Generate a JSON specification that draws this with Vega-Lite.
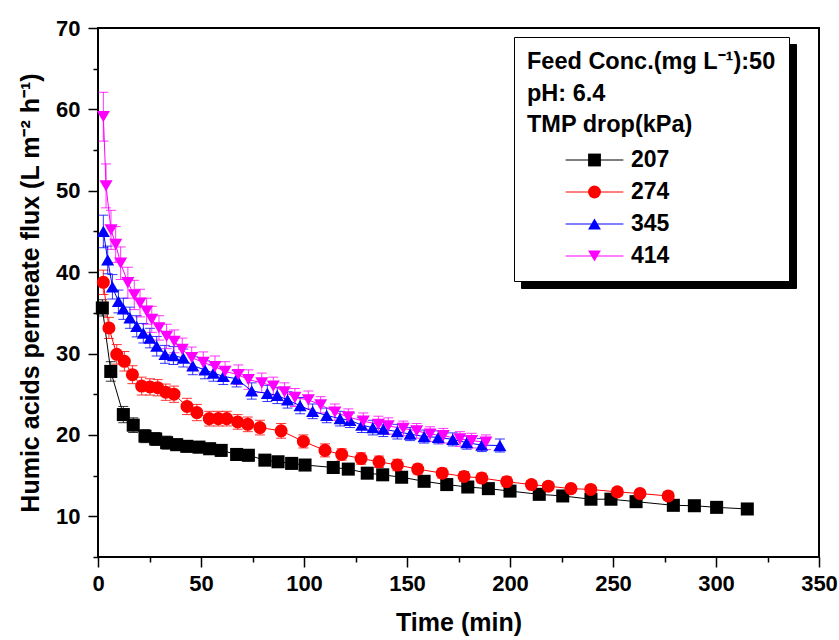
{
  "$schema": "https://vega.github.io/schema/vega-lite/v6.json",
  "width": 721,
  "height": 529,
  "autosize": {"type": "none"},
  "padding": {"left": 98, "top": 28, "right": 20, "bottom": 83},
  "background": "white",
  "config": {
    "view": {"stroke": "black", "strokeWidth": 2},
    "font": "Liberation Sans",
    "axis": {
      "grid": false,
      "domain": false,
      "labelFont": "Liberation Sans",
      "labelFontSize": 22,
      "labelFontWeight": "bold",
      "labelColor": "black",
      "titleFont": "Liberation Sans",
      "titleFontSize": 25,
      "titleFontWeight": "bold",
      "titleColor": "black",
      "tickColor": "black",
      "tickWidth": 1.5
    }
  },
  "data": {
    "values": [
      {"tmp": "207", "t": 2.1, "flux": 35.6, "err": 1.0},
      {"tmp": "207", "t": 6.2, "flux": 27.8, "err": 1.2},
      {"tmp": "207", "t": 12.3, "flux": 22.5, "err": 1.0},
      {"tmp": "207", "t": 17.1, "flux": 21.2, "err": 0.9},
      {"tmp": "207", "t": 22.8, "flux": 19.85, "err": 0.8},
      {"tmp": "207", "t": 28.0, "flux": 19.5, "err": 0.8},
      {"tmp": "207", "t": 33.3, "flux": 19.05, "err": 0.8},
      {"tmp": "207", "t": 38.2, "flux": 18.8, "err": 0.7},
      {"tmp": "207", "t": 43.1, "flux": 18.6, "err": 0.7},
      {"tmp": "207", "t": 49.0, "flux": 18.5, "err": 0.7},
      {"tmp": "207", "t": 54.2, "flux": 18.3, "err": 0.7},
      {"tmp": "207", "t": 59.8, "flux": 18.1, "err": 0.7},
      {"tmp": "207", "t": 67.3, "flux": 17.6, "err": 0.7},
      {"tmp": "207", "t": 73.0, "flux": 17.5, "err": 0.7},
      {"tmp": "207", "t": 81.0, "flux": 16.9, "err": 0.6},
      {"tmp": "207", "t": 87.4, "flux": 16.7, "err": 0.6},
      {"tmp": "207", "t": 94.0, "flux": 16.5, "err": 0.6},
      {"tmp": "207", "t": 100.5, "flux": 16.3, "err": 0.6},
      {"tmp": "207", "t": 114.2, "flux": 16.0, "err": 0.5},
      {"tmp": "207", "t": 121.5, "flux": 15.8, "err": 0.5},
      {"tmp": "207", "t": 130.7, "flux": 15.3, "err": 0.5},
      {"tmp": "207", "t": 138.2, "flux": 15.1, "err": 0.5},
      {"tmp": "207", "t": 147.4, "flux": 14.8, "err": 0.5},
      {"tmp": "207", "t": 158.3, "flux": 14.3, "err": 0.5},
      {"tmp": "207", "t": 169.3, "flux": 13.9, "err": 0.5},
      {"tmp": "207", "t": 179.5, "flux": 13.6, "err": 0.5},
      {"tmp": "207", "t": 189.5, "flux": 13.4, "err": 0.5},
      {"tmp": "207", "t": 200.0, "flux": 13.1, "err": 0.5},
      {"tmp": "207", "t": 214.2, "flux": 12.7, "err": 0.4},
      {"tmp": "207", "t": 225.6, "flux": 12.5, "err": 0.4},
      {"tmp": "207", "t": 239.3, "flux": 12.1, "err": 0.4},
      {"tmp": "207", "t": 249.0, "flux": 12.1, "err": 0.4},
      {"tmp": "207", "t": 261.2, "flux": 11.8, "err": 0.4},
      {"tmp": "207", "t": 279.3, "flux": 11.35, "err": 0.4},
      {"tmp": "207", "t": 289.5, "flux": 11.3, "err": 0.4},
      {"tmp": "207", "t": 300.3, "flux": 11.1, "err": 0.4},
      {"tmp": "207", "t": 315.2, "flux": 10.9, "err": 0.4},

      {"tmp": "274", "t": 2.6, "flux": 38.75, "err": 1.5},
      {"tmp": "274", "t": 5.3, "flux": 33.15, "err": 1.3},
      {"tmp": "274", "t": 9.1, "flux": 29.9, "err": 1.2},
      {"tmp": "274", "t": 12.8, "flux": 29.05, "err": 1.2},
      {"tmp": "274", "t": 16.7, "flux": 27.4, "err": 1.1},
      {"tmp": "274", "t": 21.2, "flux": 26.0, "err": 1.1},
      {"tmp": "274", "t": 25.2, "flux": 25.9, "err": 1.0},
      {"tmp": "274", "t": 29.0, "flux": 25.8, "err": 1.0},
      {"tmp": "274", "t": 32.9, "flux": 25.25, "err": 1.0},
      {"tmp": "274", "t": 36.9, "flux": 25.0, "err": 1.0},
      {"tmp": "274", "t": 43.2, "flux": 23.5, "err": 1.0},
      {"tmp": "274", "t": 48.0, "flux": 22.75, "err": 1.0},
      {"tmp": "274", "t": 54.0, "flux": 22.0, "err": 0.9},
      {"tmp": "274", "t": 58.4, "flux": 22.0, "err": 0.9},
      {"tmp": "274", "t": 62.5, "flux": 22.0, "err": 0.9},
      {"tmp": "274", "t": 67.8, "flux": 21.6, "err": 0.9},
      {"tmp": "274", "t": 72.7, "flux": 21.3, "err": 0.9},
      {"tmp": "274", "t": 78.6, "flux": 20.9, "err": 0.9},
      {"tmp": "274", "t": 88.9, "flux": 20.5, "err": 0.9},
      {"tmp": "274", "t": 99.7, "flux": 19.2, "err": 0.8},
      {"tmp": "274", "t": 110.2, "flux": 18.1, "err": 0.8},
      {"tmp": "274", "t": 118.3, "flux": 17.6, "err": 0.7},
      {"tmp": "274", "t": 127.7, "flux": 17.1, "err": 0.7},
      {"tmp": "274", "t": 136.4, "flux": 16.7, "err": 0.7},
      {"tmp": "274", "t": 145.3, "flux": 16.3, "err": 0.7},
      {"tmp": "274", "t": 155.2, "flux": 15.8, "err": 0.6},
      {"tmp": "274", "t": 167.1, "flux": 15.3, "err": 0.6},
      {"tmp": "274", "t": 177.7, "flux": 14.9, "err": 0.6},
      {"tmp": "274", "t": 186.3, "flux": 14.7, "err": 0.6},
      {"tmp": "274", "t": 198.4, "flux": 14.25, "err": 0.6},
      {"tmp": "274", "t": 210.4, "flux": 13.9, "err": 0.5},
      {"tmp": "274", "t": 218.6, "flux": 13.7, "err": 0.5},
      {"tmp": "274", "t": 229.6, "flux": 13.4, "err": 0.5},
      {"tmp": "274", "t": 239.2, "flux": 13.3, "err": 0.5},
      {"tmp": "274", "t": 252.1, "flux": 13.0, "err": 0.5},
      {"tmp": "274", "t": 263.1, "flux": 12.8, "err": 0.5},
      {"tmp": "274", "t": 276.8, "flux": 12.5, "err": 0.5},

      {"tmp": "345", "t": 2.6, "flux": 45.0, "err": 2.0},
      {"tmp": "345", "t": 4.7, "flux": 41.5, "err": 1.7},
      {"tmp": "345", "t": 7.0, "flux": 38.2, "err": 1.5},
      {"tmp": "345", "t": 9.9, "flux": 36.4, "err": 1.4},
      {"tmp": "345", "t": 12.3, "flux": 35.5, "err": 1.3},
      {"tmp": "345", "t": 15.5, "flux": 34.4, "err": 1.3},
      {"tmp": "345", "t": 18.8, "flux": 33.35, "err": 1.3},
      {"tmp": "345", "t": 22.0, "flux": 32.5, "err": 1.2},
      {"tmp": "345", "t": 25.2, "flux": 31.9, "err": 1.2},
      {"tmp": "345", "t": 28.5, "flux": 30.9, "err": 1.2},
      {"tmp": "345", "t": 32.5, "flux": 29.9, "err": 1.1},
      {"tmp": "345", "t": 36.6, "flux": 29.75, "err": 1.1},
      {"tmp": "345", "t": 41.4, "flux": 29.45, "err": 1.1},
      {"tmp": "345", "t": 46.0, "flux": 28.5, "err": 1.1},
      {"tmp": "345", "t": 51.9, "flux": 28.0, "err": 1.1},
      {"tmp": "345", "t": 56.0, "flux": 27.6, "err": 1.0},
      {"tmp": "345", "t": 60.8, "flux": 27.2, "err": 1.0},
      {"tmp": "345", "t": 67.3, "flux": 26.9, "err": 1.0},
      {"tmp": "345", "t": 74.6, "flux": 25.4, "err": 1.0},
      {"tmp": "345", "t": 82.2, "flux": 25.1, "err": 1.0},
      {"tmp": "345", "t": 87.0, "flux": 24.85, "err": 1.0},
      {"tmp": "345", "t": 92.0, "flux": 24.3, "err": 1.0},
      {"tmp": "345", "t": 98.1, "flux": 23.6, "err": 1.0},
      {"tmp": "345", "t": 104.2, "flux": 22.9, "err": 0.9},
      {"tmp": "345", "t": 111.0, "flux": 22.4, "err": 0.9},
      {"tmp": "345", "t": 117.5, "flux": 22.0, "err": 0.9},
      {"tmp": "345", "t": 122.3, "flux": 21.8, "err": 0.9},
      {"tmp": "345", "t": 128.0, "flux": 21.2, "err": 0.9},
      {"tmp": "345", "t": 133.4, "flux": 20.9, "err": 0.9},
      {"tmp": "345", "t": 138.5, "flux": 20.7, "err": 0.9},
      {"tmp": "345", "t": 145.3, "flux": 20.4, "err": 0.9},
      {"tmp": "345", "t": 151.5, "flux": 20.1, "err": 0.8},
      {"tmp": "345", "t": 158.3, "flux": 19.8, "err": 0.8},
      {"tmp": "345", "t": 165.2, "flux": 19.7, "err": 0.8},
      {"tmp": "345", "t": 172.2, "flux": 19.45, "err": 0.8},
      {"tmp": "345", "t": 179.0, "flux": 19.05, "err": 0.8},
      {"tmp": "345", "t": 186.3, "flux": 18.75, "err": 0.8},
      {"tmp": "345", "t": 195.1, "flux": 18.7, "err": 0.8},

      {"tmp": "414", "t": 2.6, "flux": 59.1, "err": 3.0},
      {"tmp": "414", "t": 3.9, "flux": 50.6, "err": 2.7},
      {"tmp": "414", "t": 6.3, "flux": 45.2, "err": 2.4},
      {"tmp": "414", "t": 8.6, "flux": 43.4, "err": 2.2},
      {"tmp": "414", "t": 11.0, "flux": 41.1, "err": 2.0},
      {"tmp": "414", "t": 14.5, "flux": 38.7, "err": 1.9},
      {"tmp": "414", "t": 17.6, "flux": 37.2, "err": 1.8},
      {"tmp": "414", "t": 20.4, "flux": 36.2, "err": 1.7},
      {"tmp": "414", "t": 23.6, "flux": 35.2, "err": 1.6},
      {"tmp": "414", "t": 26.1, "flux": 34.2, "err": 1.6},
      {"tmp": "414", "t": 29.6, "flux": 33.15, "err": 1.5},
      {"tmp": "414", "t": 33.3, "flux": 32.1, "err": 1.5},
      {"tmp": "414", "t": 37.0, "flux": 31.5, "err": 1.4},
      {"tmp": "414", "t": 40.9, "flux": 30.5, "err": 1.4},
      {"tmp": "414", "t": 45.5, "flux": 29.5, "err": 1.3},
      {"tmp": "414", "t": 51.1, "flux": 28.9, "err": 1.3},
      {"tmp": "414", "t": 56.8, "flux": 28.4, "err": 1.3},
      {"tmp": "414", "t": 61.7, "flux": 27.8, "err": 1.2},
      {"tmp": "414", "t": 68.1, "flux": 27.4, "err": 1.2},
      {"tmp": "414", "t": 73.0, "flux": 26.8, "err": 1.2},
      {"tmp": "414", "t": 79.5, "flux": 26.4, "err": 1.2},
      {"tmp": "414", "t": 85.1, "flux": 26.0, "err": 1.1},
      {"tmp": "414", "t": 90.5, "flux": 25.3, "err": 1.1},
      {"tmp": "414", "t": 95.6, "flux": 24.6, "err": 1.1},
      {"tmp": "414", "t": 102.1, "flux": 24.3, "err": 1.1},
      {"tmp": "414", "t": 108.1, "flux": 23.7, "err": 1.0},
      {"tmp": "414", "t": 115.0, "flux": 22.8, "err": 1.0},
      {"tmp": "414", "t": 121.5, "flux": 22.2, "err": 1.0},
      {"tmp": "414", "t": 128.8, "flux": 21.7, "err": 1.0},
      {"tmp": "414", "t": 136.1, "flux": 21.3, "err": 1.0},
      {"tmp": "414", "t": 140.9, "flux": 21.1, "err": 1.0},
      {"tmp": "414", "t": 148.2, "flux": 20.8, "err": 0.9},
      {"tmp": "414", "t": 154.7, "flux": 20.5, "err": 0.9},
      {"tmp": "414", "t": 161.2, "flux": 20.1, "err": 0.9},
      {"tmp": "414", "t": 167.6, "flux": 19.9, "err": 0.9},
      {"tmp": "414", "t": 175.7, "flux": 19.5, "err": 0.9},
      {"tmp": "414", "t": 181.4, "flux": 19.3, "err": 0.9},
      {"tmp": "414", "t": 188.3, "flux": 19.1, "err": 0.9}
    ]
  },
  "layer": [
    {
      "mark": {
        "type": "errorbar",
        "rule": {"opacity": 0.8, "strokeWidth": 1},
        "ticks": {"size": 10, "opacity": 0.8, "thickness": 1}
      },
      "encoding": {
        "x": {
          "field": "t", "type": "quantitative",
          "scale": {"domain": [0, 350], "nice": false, "zero": false},
          "axis": {
            "title": "Time (min)",
            "values": [0, 25, 50, 75, 100, 125, 150, 175, 200, 225, 250, 275, 300, 325, 350],
            "labelExpr": "datum.value % 50 === 0 ? datum.label : ''",
            "tickSize": {"condition": {"test": "datum.value % 50 === 0", "value": 10}, "value": 5},
            "labelPadding": 6, "labelFlush": false, "titlePadding": 16
          }
        },
        "y": {
          "field": "flux", "type": "quantitative",
          "scale": {"domain": [5, 70], "nice": false, "zero": false},
          "axis": {
            "title": "Humic acids permeate flux (L m⁻² h⁻¹)",
            "values": [5, 10, 15, 20, 25, 30, 35, 40, 45, 50, 55, 60, 65, 70],
            "labelExpr": "datum.value % 10 === 0 ? datum.label : ''",
            "tickSize": {"condition": {"test": "datum.value % 10 === 0", "value": 10}, "value": 5},
            "labelPadding": 8, "labelFlush": false, "titlePadding": 12
          }
        },
        "yError": {"field": "err"},
        "color": {
          "field": "tmp", "type": "nominal",
          "scale": {"domain": ["414", "345", "274", "207"], "range": ["#ff00ff", "#0000ff", "#ff0000", "#000000"]},
          "legend": {
            "orient": "none", "legendX": 423, "legendY": 16,
            "title": ["Feed Conc.(mg L⁻¹):50", "pH: 6.4", "TMP drop(kPa)"],
            "titleFont": "Liberation Sans", "titleFontSize": 23.5, "titleFontWeight": "bold",
            "titleLineHeight": 31.5, "titlePadding": 12, "titleColor": "transparent", "titleLimit": 500,
            "labelFont": "Liberation Sans", "labelFontSize": 23, "labelFontWeight": "bold",
            "labelColor": "transparent", "symbolOpacity": 0,
            "symbolType": "circle", "symbolSize": 165,
            "symbolOffset": 56, "labelOffset": 25,
            "rowPadding": 8, "padding": 13,
            "fillColor": "black", "strokeColor": "black"
          }
        }
      }
    },
    {
      "mark": {"type": "line", "strokeWidth": 1},
      "encoding": {
        "x": {"field": "t", "type": "quantitative",
          "axis": {
            "title": "Time (min)",
            "values": [0, 25, 50, 75, 100, 125, 150, 175, 200, 225, 250, 275, 300, 325, 350],
            "labelExpr": "datum.value % 50 === 0 ? datum.label : ''",
            "tickSize": {"condition": {"test": "datum.value % 50 === 0", "value": 10}, "value": 5},
            "labelPadding": 6, "labelFlush": false, "titlePadding": 16
          }},
        "y": {"field": "flux", "type": "quantitative",
          "axis": {
            "title": "Humic acids permeate flux (L m⁻² h⁻¹)",
            "values": [5, 10, 15, 20, 25, 30, 35, 40, 45, 50, 55, 60, 65, 70],
            "labelExpr": "datum.value % 10 === 0 ? datum.label : ''",
            "tickSize": {"condition": {"test": "datum.value % 10 === 0", "value": 10}, "value": 5},
            "labelPadding": 8, "labelFlush": false, "titlePadding": 12
          }},
        "stroke": {
          "field": "tmp", "type": "nominal",
          "scale": {"domain": ["207", "274", "345", "414"], "range": ["#000000", "#ff0000", "#0000ff", "#ff00ff"]},
          "legend": {
            "orient": "none", "legendX": 416, "legendY": 9,
            "title": ["Feed Conc.(mg L⁻¹):50", "pH: 6.4", "TMP drop(kPa)"],
            "titleFont": "Liberation Sans", "titleFontSize": 23.5, "titleFontWeight": "bold",
            "titleLineHeight": 31.5, "titlePadding": 12, "titleColor": "transparent", "titleLimit": 500,
            "labelFont": "Liberation Sans", "labelFontSize": 23, "labelFontWeight": "bold",
            "labelColor": "transparent",
            "symbolType": "M-4.5,0H4.5", "symbolSize": 165, "symbolStrokeWidth": 1,
            "symbolOffset": 56, "labelOffset": 25,
            "rowPadding": 8, "padding": 13,
            "fillColor": "white", "strokeColor": "black"
          }
        }
      }
    },
    {
      "mark": {"type": "point", "filled": true, "opacity": 1, "size": 170, "strokeWidth": 0},
      "encoding": {
        "x": {"field": "t", "type": "quantitative",
          "axis": {
            "title": "Time (min)",
            "values": [0, 25, 50, 75, 100, 125, 150, 175, 200, 225, 250, 275, 300, 325, 350],
            "labelExpr": "datum.value % 50 === 0 ? datum.label : ''",
            "tickSize": {"condition": {"test": "datum.value % 50 === 0", "value": 10}, "value": 5},
            "labelPadding": 6, "labelFlush": false, "titlePadding": 16
          }},
        "y": {"field": "flux", "type": "quantitative",
          "axis": {
            "title": "Humic acids permeate flux (L m⁻² h⁻¹)",
            "values": [5, 10, 15, 20, 25, 30, 35, 40, 45, 50, 55, 60, 65, 70],
            "labelExpr": "datum.value % 10 === 0 ? datum.label : ''",
            "tickSize": {"condition": {"test": "datum.value % 10 === 0", "value": 10}, "value": 5},
            "labelPadding": 8, "labelFlush": false, "titlePadding": 12
          }},
        "fill": {
          "field": "tmp", "type": "nominal",
          "scale": {"range": ["#000000", "#ff0000", "#0000ff", "#ff00ff"]},
          "legend": {
            "orient": "none", "legendX": 416, "legendY": 9,
            "title": ["Feed Conc.(mg L⁻¹):50", "pH: 6.4", "TMP drop(kPa)"],
            "titleFont": "Liberation Sans", "titleFontSize": 23.5, "titleFontWeight": "bold",
            "titleLineHeight": 31.5, "titlePadding": 12, "titleColor": "black", "titleLimit": 500,
            "labelFont": "Liberation Sans", "labelFontSize": 23, "labelFontWeight": "bold",
            "labelColor": "black",
            "symbolSize": 165, "symbolStrokeWidth": 0,
            "symbolOffset": 56, "labelOffset": 25,
            "rowPadding": 8, "padding": 13
          }
        },
        "shape": {
          "field": "tmp", "type": "nominal",
          "scale": {"range": ["square", "circle", "triangle-up", "triangle-down"]},
          "legend": {
            "orient": "none", "legendX": 416, "legendY": 9,
            "title": ["Feed Conc.(mg L⁻¹):50", "pH: 6.4", "TMP drop(kPa)"],
            "titleFont": "Liberation Sans", "titleFontSize": 23.5, "titleFontWeight": "bold",
            "titleLineHeight": 31.5, "titlePadding": 12, "titleColor": "black", "titleLimit": 500,
            "labelFont": "Liberation Sans", "labelFontSize": 23, "labelFontWeight": "bold",
            "labelColor": "black",
            "symbolSize": 165, "symbolStrokeWidth": 0,
            "symbolOffset": 56, "labelOffset": 25,
            "rowPadding": 8, "padding": 13
          }
        }
      }
    }
  ]
}
